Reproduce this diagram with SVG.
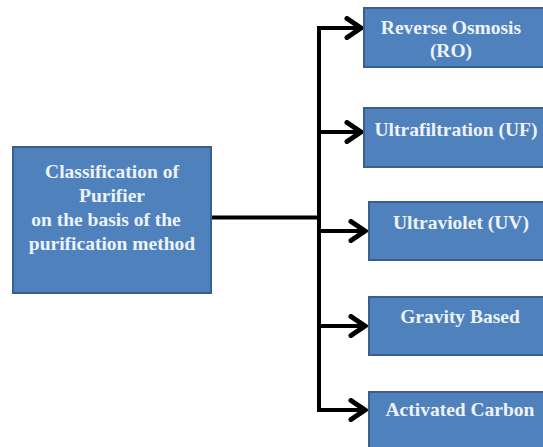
<svg xmlns="http://www.w3.org/2000/svg" width="543" height="447" viewBox="0 0 543 447">
<style>
.box{fill:#4F81BD;stroke:#3A5F8C;stroke-width:2}
.t{font-family:"Liberation Serif","Times New Roman",serif;font-weight:bold;font-size:19.5px;fill:#EEF3FA;text-anchor:middle}
.ln{fill:none;stroke:#000;stroke-width:4}
</style>
<defs>
<marker id="ah" markerUnits="userSpaceOnUse" markerWidth="24" markerHeight="24" refX="18" refY="12" orient="auto" viewBox="0 0 24 24">
<path d="M3,2.5 L17,12 L3,21.5" fill="none" stroke="#000" stroke-width="5" stroke-linejoin="miter" stroke-linecap="round"/>
</marker>
</defs>
<rect width="543" height="447" fill="#fff"/>
<g id="connectors">
<path class="ln" d="M211,217.5 H319"/>
<path class="ln" d="M319,26 V412"/>
<path class="ln" d="M317,28 H362" marker-end="url(#ah)"/>
<path class="ln" d="M319,132 H362" marker-end="url(#ah)"/>
<path class="ln" d="M319,231 H366" marker-end="url(#ah)"/>
<path class="ln" d="M319,326 H366" marker-end="url(#ah)"/>
<path class="ln" d="M317,410 H366" marker-end="url(#ah)"/>
</g>
<g id="root">
<rect class="box" x="13" y="147" width="198" height="146"/>
<text class="t" x="112" y="178">Classification of</text>
<text class="t" x="112" y="202">Purifier</text>
<text class="t" x="106" y="226">on the basis of the</text>
<text class="t" x="112" y="250">purification method</text>
</g>
<g id="ro">
<rect class="box" x="364" y="8" width="200" height="59"/>
<text class="t" x="451" y="34">Reverse Osmosis</text>
<text class="t" x="451" y="57">(RO)</text>
</g>
<g id="uf">
<rect class="box" x="364" y="108" width="200" height="59"/>
<text class="t" x="456" y="136">Ultrafiltration (UF)</text>
</g>
<g id="uv">
<rect class="box" x="369" y="202" width="200" height="58"/>
<text class="t" x="461" y="229">Ultraviolet (UV)</text>
</g>
<g id="gravity">
<rect class="box" x="369" y="297" width="200" height="58"/>
<text class="t" x="460" y="323">Gravity Based</text>
</g>
<g id="carbon">
<rect class="box" x="369" y="392" width="200" height="70"/>
<text class="t" x="460" y="416">Activated Carbon</text>
</g>
</svg>
